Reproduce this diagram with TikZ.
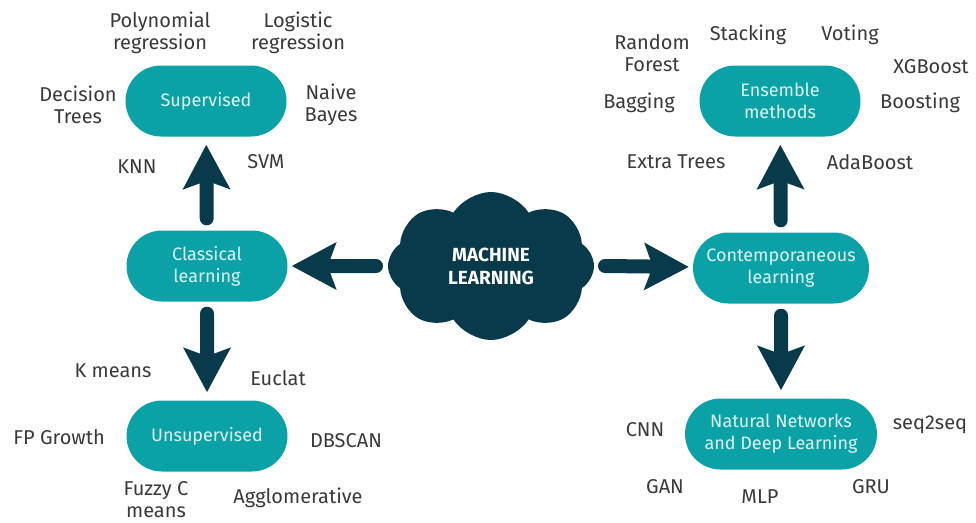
\documentclass[tikz,border=0pt]{standalone}
\usepackage{fontspec}
\setmainfont{Fira Sans}
\usetikzlibrary{positioning,shapes,arrows.meta}
\definecolor{mldark}{HTML}{083A4B}
\definecolor{mlteal}{HTML}{0AA2A6}
\definecolor{mlpale}{HTML}{DDF3F3}
\definecolor{mltext}{HTML}{3A3A3A}
\begin{document}
\begin{tikzpicture}[x=1pt,y=-1pt,pill/.style={shape=rounded rectangle, fill=mlteal, text=mlpale, align=center, minimum width=165pt, minimum height=71pt, inner sep=2pt, font=\fontsize{18}{22}\selectfont},algo/.style={align=center, text=mltext, inner sep=0pt, font=\fontsize{20}{22}\selectfont},bigarrow/.style={draw=mldark, line width=14pt, line cap=round, -{Stealth[length=44pt,width=46pt,inset=8pt]}}]
\useasboundingbox (0,0) rectangle (976,522);
\node[shape=cloud, cloud puffs=8, cloud puff arc=115, aspect=1.4, fill=mldark, text=white, align=center, minimum width=206pt, minimum height=148pt, font=\fontsize{19}{23}\selectfont\bfseries] (ml) at (491,266) {MACHINE\\LEARNING};
\node[pill] (classical) at (207,266) {Classical\\learning};
\node[pill] (supervised) at (206,101) {Supervised};
\node[pill] (unsupervised) at (207,436) {Unsupervised};
\node[pill, minimum width=180pt] (contemp) at (781,268) {Contemporaneous\\learning};
\node[pill] (ensemble) at (780,101) {Ensemble\\methods};
\node[pill, minimum width=196pt] (deep) at (781,434) {Natural Networks\\and Deep Learning};
% arrows
\draw[bigarrow, shorten >=4pt] ([xshift=-115pt]ml.center) -- (classical);
\draw[bigarrow, shorten >=4pt] ([xshift=114pt]ml.center) -- (contemp);
\draw[bigarrow, shorten <=12pt, shorten >=8pt] (classical) -- (supervised);
\draw[bigarrow, shorten <=12pt, shorten >=8pt] (classical) -- (unsupervised);
\draw[bigarrow, shorten <=12pt, shorten >=8pt] (contemp) -- (ensemble);
\draw[bigarrow, shorten <=12pt, shorten >=8pt] (contemp) -- (deep);
% supervised
\node[algo] (poly) at (160,33) {Polynomial\\regression};
\node[algo] (logistic) at (298,33) {Logistic\\regression};
\node[algo] (dtree) at (78,105) {Decision\\Trees};
\node[algo] (bayes) at (331,105) {Naive\\Bayes};
\node[algo] (knn) at (137,167) {KNN};
\node[algo] (svm) at (266,162) {SVM};
% unsupervised
\node[algo] (kmeans) at (113,371) {K means};
\node[algo] (euclat) at (278,378) {Euclat};
\node[algo] (fpgrowth) at (59,437) {FP Growth};
\node[algo] (dbscan) at (346,441) {DBSCAN};
\node[algo] (fuzzy) at (156,500) {Fuzzy C\\means};
\node[algo] (agglo) at (298,498) {Agglomerative};
% ensemble
\node[algo] (forest) at (652,53) {Random\\Forest};
\node[algo] (stacking) at (748,35) {Stacking};
\node[algo] (voting) at (850,35) {Voting};
\node[algo] (xgboost) at (931,67) {XGBoost};
\node[algo] (bagging) at (639,103) {Bagging};
\node[algo] (boosting) at (920,103) {Boosting};
\node[algo] (extra) at (676,162) {Extra Trees};
\node[algo] (adaboost) at (870,162) {AdaBoost};
% deep learning
\node[algo] (cnn) at (645,430) {CNN};
\node[algo] (seq) at (930,425) {seq2seq};
\node[algo] (gan) at (665,487) {GAN};
\node[algo] (mlp) at (760,497) {MLP};
\node[algo] (gru) at (871,487) {GRU};
\end{tikzpicture}
\end{document}
